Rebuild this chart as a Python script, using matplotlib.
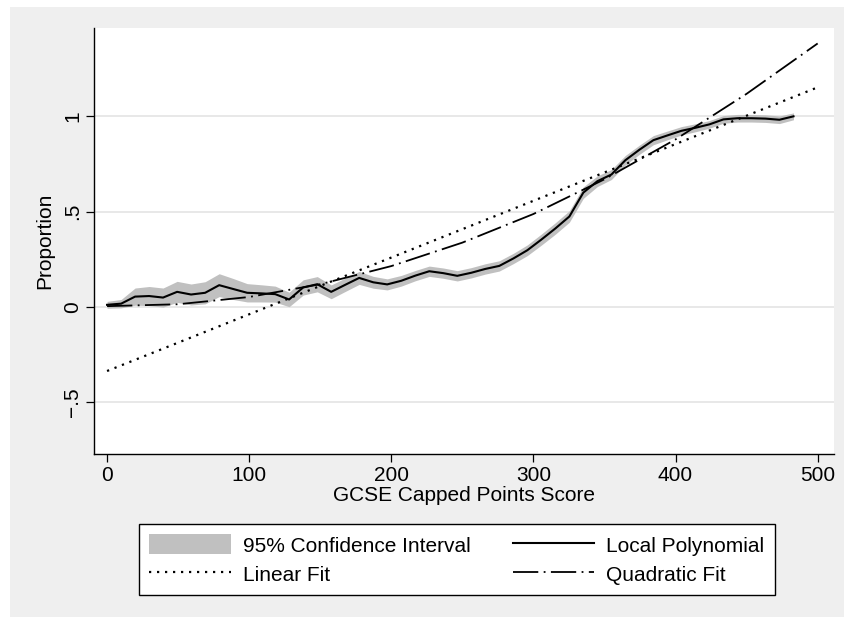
import numpy as np
import matplotlib.pyplot as plt
from matplotlib.patches import Patch, Rectangle
from matplotlib.lines import Line2D

plt.rcParams['font.family'] = ['Liberation Sans', 'DejaVu Sans']

# local polynomial smooth evaluated on its grid
score = [0, 9.9, 19.7, 29.6, 39.4, 49.3, 59.1, 69.0, 78.9, 88.7,
         98.6, 108.4, 118.3, 128.1, 138.0, 147.9, 157.7, 167.6, 177.4, 187.3,
         197.1, 207.0, 216.9, 226.7, 236.6, 246.4, 256.3, 266.1, 276.0, 285.9,
         295.7, 305.6, 315.4, 325.3, 335.1, 345.0, 354.9, 364.7, 374.6, 384.4,
         394.3, 404.1, 414.0, 423.9, 433.7, 443.6, 453.4, 463.3, 473.1, 483.0]
prop = [0.012, 0.018, 0.055, 0.058, 0.050, 0.080, 0.066, 0.075, 0.115, 0.095,
        0.075, 0.072, 0.068, 0.040, 0.103, 0.120, 0.080, 0.117, 0.153, 0.130,
        0.119, 0.138, 0.165, 0.188, 0.178, 0.164, 0.180, 0.200, 0.216, 0.255,
        0.298, 0.354, 0.412, 0.475, 0.600, 0.660, 0.695, 0.770, 0.825, 0.875,
        0.900, 0.924, 0.940, 0.958, 0.984, 0.990, 0.990, 0.988, 0.982, 1.000]
# half width of the 95% band
ci_half = [0.018, 0.022, 0.045, 0.050, 0.050, 0.055, 0.055, 0.058, 0.060, 0.055,
           0.048, 0.045, 0.042, 0.038, 0.040, 0.040, 0.036, 0.035, 0.034, 0.031,
           0.029, 0.028, 0.027, 0.027, 0.027, 0.027, 0.027, 0.027, 0.027, 0.027,
           0.028, 0.029, 0.030, 0.030, 0.030, 0.028, 0.026, 0.025, 0.024, 0.024,
           0.023, 0.022, 0.021, 0.020, 0.020, 0.020, 0.020, 0.020, 0.020, 0.018]

# linear fit
lin_x = [0, 500]
lin_y = [-0.335, 1.152]

# quadratic fit
quad_x = [0, 50, 100, 150, 200, 250, 300, 350, 400, 450, 500]
quad_y = [0.005, 0.015, 0.053, 0.120, 0.215, 0.338, 0.488, 0.670, 0.879, 1.118, 1.382]

x_ticks = [0, 100, 200, 300, 400, 500]
y_ticks = [-0.5, 0, 0.5, 1]
y_ticklabels = ['\u2212.5', '0', '.5', '1']

W, H = 845, 617
fig = plt.figure(figsize=(W / 100, H / 100), dpi=100)
fig.patch.set_facecolor('white')
fig.add_artist(Rectangle((10 / W, 0), 1 - 10 / W, 1 - 7 / H, transform=fig.transFigure,
                         facecolor='#efefef', edgecolor='none', zorder=-10))

ax = fig.add_axes([93.7 / W, 1 - 454 / H, (834 - 93.7) / W, (454 - 28) / H])
ax.set_facecolor('white')

lo = np.array(prop) - np.array(ci_half)
hi = np.array(prop) + np.array(ci_half)

for yt in y_ticks:
    ax.axhline(yt, color='#e4e4e4', lw=1.2, zorder=0)

dash_dot = (0, (14, 3, 1, 3))
dotted = (0, (1, 2.6))

ax.fill_between(score, lo, hi, color='#c0c0c0', lw=0, zorder=1)
ax.plot(score, prop, color='black', lw=1.5, zorder=3)
ax.plot(lin_x, lin_y, color='black', lw=1.6, ls=dotted, zorder=2)
ax.plot(quad_x, quad_y, color='black', lw=1.3, ls=dash_dot, zorder=2)

ax.set_xlim(-9.4, 511.5)
ax.set_ylim(-0.77, 1.463)
ax.set_xticks(x_ticks)
ax.set_yticks(y_ticks)
ax.set_yticklabels(y_ticklabels, rotation=90, va='center')

for s in ['top', 'right']:
    ax.spines[s].set_visible(False)
for s in ['left', 'bottom']:
    ax.spines[s].set_linewidth(1.0)
ax.tick_params(length=5.5, width=0.9, labelsize=15, pad=3)

ax.set_xlabel('GCSE Capped Points Score', fontsize=15, labelpad=1)
ax.set_ylabel('Proportion', fontsize=15, labelpad=6)

handles = [Patch(facecolor='#c0c0c0', edgecolor='none'),
           Line2D([], [], color='black', lw=1.6, ls=dotted),
           Line2D([], [], color='black', lw=1.5),
           Line2D([], [], color='black', lw=1.3, ls=dash_dot)]
labels = ['95% Confidence Interval', 'Linear Fit', 'Local Polynomial', 'Quadratic Fit']
leg = fig.legend(handles, labels, ncol=2, loc='upper left',
                 bbox_to_anchor=(139 / W, 1 - 524 / H), fontsize=15,
                 frameon=True, fancybox=False, edgecolor='black', facecolor='white',
                 framealpha=1, handlelength=3.9, handleheight=1.1, handletextpad=0.6,
                 columnspacing=2.0, borderpad=0.5, labelspacing=0.4, borderaxespad=0)
leg.get_frame().set_linewidth(1.0)

fig.savefig('out.png', dpi=100)
